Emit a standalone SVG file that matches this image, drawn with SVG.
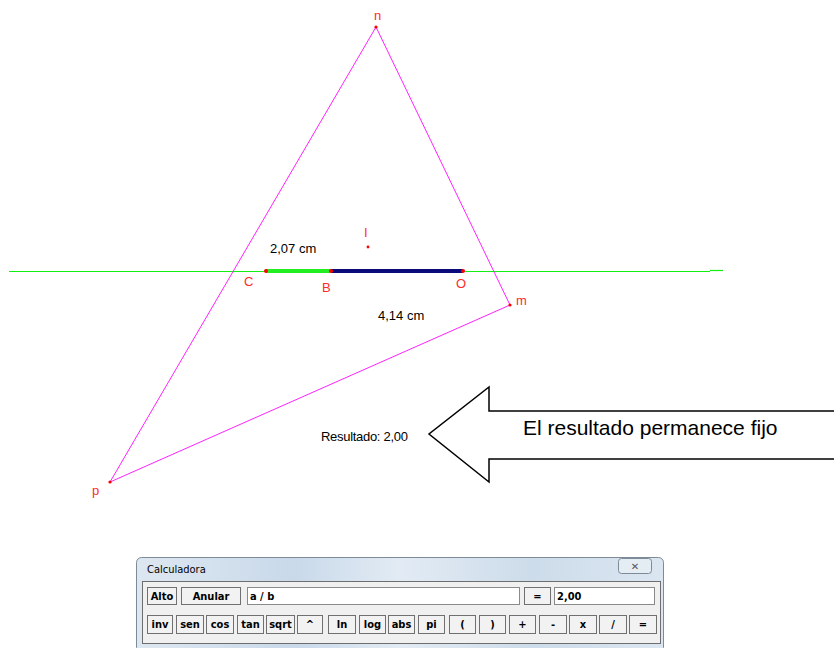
<svg xmlns="http://www.w3.org/2000/svg" width="834" height="648" viewBox="0 0 834 648">
<defs>
<style>
.lbl{font-family:"Liberation Sans",Arial,sans-serif;font-size:13px;fill:#ff2a2a}
.txt{font-family:"Liberation Sans",Arial,sans-serif;fill:#000}
.btn{fill:#f2f2f2;stroke:#707070;stroke-width:1}
.bt{font-family:"DejaVu Sans Condensed","DejaVu Sans",sans-serif;font-weight:bold;font-size:11px;fill:#000;text-anchor:middle}
.fld{fill:#fff;stroke:#8a8a8a;stroke-width:1}
.pt{fill:#ff0000}
</style>
<linearGradient id="win" x1="0" y1="0" x2="1" y2="0">
<stop offset="0" stop-color="#dde7f1"/>
<stop offset="0.3" stop-color="#c9d9ea"/>
<stop offset="0.5" stop-color="#e2ebf4"/>
<stop offset="0.75" stop-color="#cddcea"/>
<stop offset="1" stop-color="#dbe6f1"/>
</linearGradient>
</defs>
<rect width="834" height="648" fill="#fff"/>

<g id="connectors">
<line x1="9" y1="271.5" x2="710" y2="271.5" stroke="#11ee11" stroke-width="1.2"/>
<line x1="710" y1="270.5" x2="723" y2="270.5" stroke="#11ee11" stroke-width="1.2"/>
<polygon points="376,27 510,305 110,482" fill="none" stroke="#ff22ff" stroke-width="1"/>
<line x1="266" y1="271" x2="331" y2="271" stroke="#22ee22" stroke-width="4"/>
<line x1="331" y1="271" x2="463" y2="271" stroke="#0a0a7a" stroke-width="4"/>
</g>

<g id="n"><circle class="pt" cx="376" cy="27" r="1.6"/><text class="lbl" x="374" y="20">n</text></g>
<g id="m"><circle class="pt" cx="510" cy="305" r="1.6"/><text class="lbl" x="516" y="305">m</text></g>
<g id="p"><circle class="pt" cx="110" cy="482" r="1.6"/><text class="lbl" x="92" y="495">p</text></g>
<g id="I"><circle class="pt" cx="368" cy="247" r="1.4"/><text class="lbl" x="364" y="237">I</text></g>
<g id="C"><circle class="pt" cx="266" cy="271" r="2"/><text class="lbl" x="244" y="286">C</text></g>
<g id="B"><circle class="pt" cx="331" cy="271" r="2"/><text class="lbl" x="322" y="292">B</text></g>
<g id="O"><circle class="pt" cx="463" cy="271" r="2"/><text class="lbl" x="456" y="288">O</text></g>

<g id="labels">
<text class="txt" x="270" y="253" font-size="13">2,07 cm</text>
<text class="txt" x="378" y="320" font-size="13">4,14 cm</text>
<text class="txt" x="321" y="441" font-size="13" letter-spacing="-0.3" fill="#222">Resultado: 2,00</text>
</g>

<g id="arrow">
<polyline points="834,411 489,411 489,387 429,434 489,482 489,459 834,459" fill="#fff" stroke="#000" stroke-width="1.5"/>
<text class="txt" x="523" y="435" font-size="21">El resultado permanece fijo</text>
</g>

<g id="calculadora">
<rect x="136.5" y="557.5" width="527" height="95" rx="5" fill="url(#win)" stroke="#7d8a98"/>
<text x="147" y="573" font-family="'DejaVu Sans Condensed','DejaVu Sans',sans-serif" font-size="11" fill="#000">Calculadora</text>
<rect x="618.5" y="558.5" width="33" height="15" rx="3" fill="#e4ecf4" stroke="#7d8a98"/>
<text x="635" y="570" font-family="'DejaVu Sans',sans-serif" font-size="10" fill="#555" text-anchor="middle">✕</text>
<rect x="142.5" y="581.5" width="518" height="62" fill="#f0f0f0" stroke="#6e6e6e"/>
<g>
<rect class="btn" x="147.5" y="587.5" width="29" height="17"/><text class="bt" x="162" y="600">Alto</text>
<rect class="btn" x="181.5" y="587.5" width="59" height="17"/><text class="bt" x="211" y="600">Anular</text>
<rect class="fld" x="247.5" y="587.5" width="272" height="17"/><text x="250" y="600" font-family="'DejaVu Sans Condensed','DejaVu Sans',sans-serif" font-weight="bold" font-size="11">a / b</text>
<rect class="btn" x="524.5" y="587.5" width="26" height="17"/><text class="bt" x="537.5" y="600">=</text>
<rect class="fld" x="554.5" y="587.5" width="100" height="17"/><text x="557" y="600" font-family="'DejaVu Sans Condensed','DejaVu Sans',sans-serif" font-weight="bold" font-size="11">2,00</text>
</g>
<g>
<rect class="btn" x="147.5" y="615.5" width="25" height="18"/><text class="bt" x="160" y="628">inv</text>
<rect class="btn" x="176.5" y="615.5" width="27" height="18"/><text class="bt" x="190" y="628">sen</text>
<rect class="btn" x="206.5" y="615.5" width="27" height="18"/><text class="bt" x="220" y="628">cos</text>
<rect class="btn" x="237.5" y="615.5" width="26" height="18"/><text class="bt" x="250.5" y="628">tan</text>
<rect class="btn" x="266.5" y="615.5" width="28" height="18"/><text class="bt" x="280.5" y="628">sqrt</text>
<rect class="btn" x="297.5" y="615.5" width="25" height="18"/><text class="bt" x="310" y="628">^</text>
<rect class="btn" x="328.5" y="615.5" width="27" height="18"/><text class="bt" x="342" y="628">ln</text>
<rect class="btn" x="359.5" y="615.5" width="26" height="18"/><text class="bt" x="372.5" y="628">log</text>
<rect class="btn" x="388.5" y="615.5" width="26" height="18"/><text class="bt" x="401.5" y="628">abs</text>
<rect class="btn" x="418.5" y="615.5" width="26" height="18"/><text class="bt" x="431.5" y="628">pi</text>
<rect class="btn" x="449.5" y="615.5" width="26" height="18"/><text class="bt" x="462.5" y="628">(</text>
<rect class="btn" x="479.5" y="615.5" width="26" height="18"/><text class="bt" x="492.5" y="628">)</text>
<rect class="btn" x="509.5" y="615.5" width="26" height="18"/><text class="bt" x="522.5" y="628">+</text>
<rect class="btn" x="539.5" y="615.5" width="27" height="18"/><text class="bt" x="553" y="628">-</text>
<rect class="btn" x="569.5" y="615.5" width="27" height="18"/><text class="bt" x="583" y="628">x</text>
<rect class="btn" x="599.5" y="615.5" width="27" height="18"/><text class="bt" x="613" y="628">/</text>
<rect class="btn" x="629.5" y="615.5" width="27" height="18"/><text class="bt" x="643" y="628">=</text>
</g>
</g>
</svg>
